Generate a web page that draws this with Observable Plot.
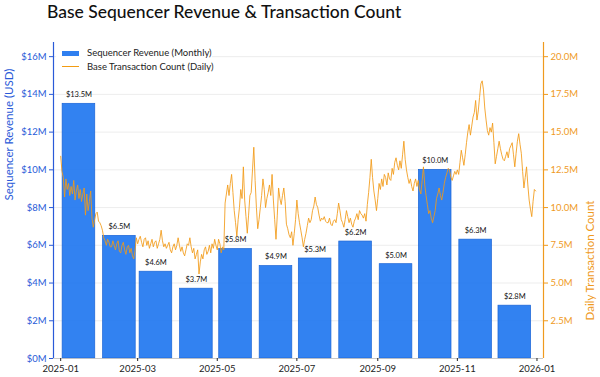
<!DOCTYPE html>
<html><head><meta charset="utf-8">
<script src="https://cdn.jsdelivr.net/npm/d3@7"></script>
<script src="https://cdn.jsdelivr.net/npm/@observablehq/plot@0.6"></script>
<style>
body{margin:0;background:#fff;font-family:Lato,"Open Sans",sans-serif;}
#wrap{position:relative;width:600px;height:377px;overflow:hidden;background:#fff;}
#title{position:absolute;left:47px;top:0;height:24px;line-height:24px;font-size:17.5px;font-weight:500;color:#111;white-space:nowrap;}
#chart{position:absolute;left:0;top:24px;}
#legend{position:absolute;left:56px;top:44px;width:156px;height:31px;background:rgba(255,255,255,0.9);font-size:9.5px;color:#222;}
.li{position:absolute;left:31px;white-space:nowrap;}
.sw{position:absolute;left:6px;}
</style>
</head><body>
<div id="wrap">
  <div id="title">Base Sequencer Revenue &amp; Transaction Count</div>
  <div id="chart"></div>
  <div id="legend">
    <div class="sw" style="top:7px;width:17px;height:4.5px;background:#2f7ff0;"></div>
    <div class="li" style="top:3px;">Sequencer Revenue (Monthly)</div>
    <div class="sw" style="top:22px;width:17px;height:1.2px;background:#f39c12;"></div>
    <div class="li" style="top:17px;">Base Transaction Count (Daily)</div>
  </div>
</div>
<script>
// Monthly sequencer revenue (USD millions), bars centred on the 15th
const months = ["2025-01","2025-02","2025-03","2025-04","2025-05","2025-06","2025-07","2025-08","2025-09","2025-10","2025-11","2025-12"];
const revenue = [13.5, 6.5, 4.6, 3.7, 5.8, 4.9, 5.3, 6.2, 5.0, 10.0, 6.3, 2.8];

// Daily Base transaction count (millions), starting 2025-01-01
const txStart = "2025-01-01";
const txDaily = [
  13.4,12.4,12.0,10.7,11.9,11.2,11.6,10.8,11.4,10.9,11.8,10.5,11.1,11.5,10.6,11.2,10.4,10.9,11.3,9.5,10.9,9.8,10.4,11.1,9.3,8.7,9.2,9.6,9.7,9.1,9.0,
  8.8,8.5,8.0,7.8,7.5,7.9,7.7,7.4,7.4,7.8,7.5,7.2,7.6,7.8,7.1,7.0,7.5,7.7,7.2,6.9,7.4,7.5,7.0,7.3,6.8,6.6,7.2,8.0,
  7.6,7.9,8.1,7.7,7.4,7.9,8.0,7.5,7.8,7.3,7.6,7.9,7.4,7.7,7.8,7.3,7.6,7.9,8.5,7.8,7.4,7.6,7.3,7.5,7.7,7.2,7.0,7.4,7.6,7.2,7.5,
  8.0,7.5,7.1,7.4,7.0,6.8,7.2,7.6,7.5,8.0,7.4,7.0,7.3,6.6,6.9,7.2,5.6,6.4,6.9,6.6,7.2,7.4,6.9,7.1,7.5,7.0,7.6,7.3,7.9,7.5,
  7.2,7.9,7.6,7.0,7.4,7.2,10.3,10.9,11.5,10.8,11.6,12.2,11.0,9.8,9.0,8.1,9.2,10.0,11.2,10.6,12.7,10.5,9.4,8.3,9.5,10.8,11.0,12.5,14.0,11.8,10.0,
  8.6,9.2,10.0,10.8,11.9,11.2,10.0,10.6,11.0,11.5,10.8,12.2,10.5,9.2,7.9,9.5,11.3,10.6,10.2,10.8,11.3,10.4,8.9,8.6,8.2,8.0,8.4,7.5,8.3,9.2,
  10.5,9.6,9.0,8.5,8.0,7.4,7.9,8.3,8.8,9.3,9.0,9.2,9.8,10.1,10.7,10.2,10.0,9.5,9.1,9.3,9.2,9.4,9.1,9.0,9.0,9.3,8.9,8.8,9.1,9.2,9.0,
  9.6,10.3,9.8,9.2,9.0,8.7,9.2,9.8,9.4,9.0,9.3,8.9,8.7,9.1,9.3,9.6,9.2,9.8,9.6,9.5,9.3,9.6,9.1,10.2,11.0,12.0,13.2,12.0,11.1,10.5,9.8,
  10.6,11.6,11.2,11.9,11.4,12.2,12.0,11.5,12.3,11.9,11.8,12.6,12.2,13.0,13.3,12.8,12.5,13.1,12.6,13.5,14.4,13.2,12.5,12.0,11.6,11.9,11.4,11.1,11.6,11.9,
  11.4,11.8,11.2,10.9,11.8,12.7,11.5,10.8,10.2,9.6,9.8,9.3,9.0,9.4,9.8,10.6,10.9,11.3,10.8,10.5,11.0,11.6,12.0,12.3,12.6,12.5,12.0,11.8,12.1,12.4,12.2,
  12.5,12.2,13.0,13.8,13.3,12.8,13.5,14.3,15.0,15.5,14.8,15.4,16.0,16.3,17.1,15.8,16.4,17.3,18.2,18.4,17.8,16.6,15.8,15.1,14.8,15.3,15.0,15.6,14.3,12.9,
  13.4,13.9,14.4,13.9,13.5,13.2,13.1,13.4,13.7,13.3,13.9,14.1,14.3,13.5,12.7,13.6,14.4,14.9,14.2,13.6,12.4,11.3,12.0,12.7,11.5,10.5,9.9,9.4,10.4,11.2,11.1
];

// Axis ticks
const revTicks = [0, 2, 4, 6, 8, 10, 12, 14, 16];
const txTicks = [2.5, 5.0, 7.5, 10.0, 12.5, 15.0, 17.5, 20.0];
const xTicks = ["2025-01","2025-03","2025-05","2025-07","2025-09","2025-11","2026-01"];
const xDomainStr = ["2024-12-26T12:00Z", "2026-01-06T00:00Z"];
const revMax = 16.75, txMax = 20.94;

const blue = "#2a5ad8", orange = "#ef9a1e";
const k = revMax / txMax;
const parseM = d3.utcParse("%Y-%m");
const xDomain = xDomainStr.map(s => new Date(s));

const bars = months.map((m, i) => {
  const mid = d3.utcDay.offset(parseM(m), 14);
  return {mid, x1: d3.utcHour.offset(mid, -300), x2: d3.utcHour.offset(mid, 300), rev: revenue[i]};
});
const t0 = new Date(txStart + "T00:00Z");
const tx = txDaily.map((v, i) => ({date: d3.utcDay.offset(t0, i), v}));

const chart = Plot.plot({
  width: 600, height: 353,
  marginLeft: 53, marginRight: 57, marginTop: 18, marginBottom: 19,
  style: {fontFamily: "Lato, 'Open Sans', sans-serif", fontSize: "9.5px", background: "transparent", overflow: "visible"},
  x: {type: "utc", domain: xDomain},
  y: {domain: [0, revMax]},
  marks: [
    Plot.gridY(revTicks.slice(1), {stroke: "#e9e9e9", strokeOpacity: 1, strokeWidth: 0.8}),
    Plot.rectY(bars, {x1: "x1", x2: "x2", y: "rev", fill: "#1c74f0", fillOpacity: 0.9, stroke: "#1a64d6", strokeWidth: 0.7}),
    Plot.line(tx, {x: "date", y: d => d.v * k, stroke: "#f29a16", strokeWidth: 1, strokeOpacity: 0.85}),
    Plot.text(bars, {x: "mid", y: "rev", text: d => `$${d.rev.toFixed(1)}M`, dy: -9, fontSize: 7.5, fill: "#111"}),
    Plot.ruleY([0], {stroke: "#bbb", strokeWidth: 0.8}),
    Plot.ruleX([xDomain[0]], {stroke: blue, strokeWidth: 1.2}),
    Plot.ruleX([xDomain[1]], {stroke: orange, strokeWidth: 1.2}),
    Plot.axisY(revTicks, {anchor: "left", tickFormat: d => `$${d}M`, color: blue, tickSize: 4, tickPadding: 3, label: null}),
    Plot.axisY(txTicks.map(t => t * k), {anchor: "right", tickFormat: d => `${(d / k).toFixed(1)}M`, color: orange, tickSize: 4, tickPadding: 3, label: null}),
    Plot.axisX(xTicks.map(parseM), {tickFormat: d3.utcFormat("%Y-%m"), tickSize: 3, tickPadding: 4, color: "#222", label: null}),
    Plot.text(["Sequencer Revenue (USD)"], {frameAnchor: "left", dx: -44.5, rotate: -90, fontSize: 11.5, fill: blue}),
    Plot.text(["Daily Transaction Count"], {frameAnchor: "right", dx: 47, rotate: -90, fontSize: 11.5, fill: orange})
  ]
});
document.getElementById("chart").appendChild(chart);
</script>
</body></html>
